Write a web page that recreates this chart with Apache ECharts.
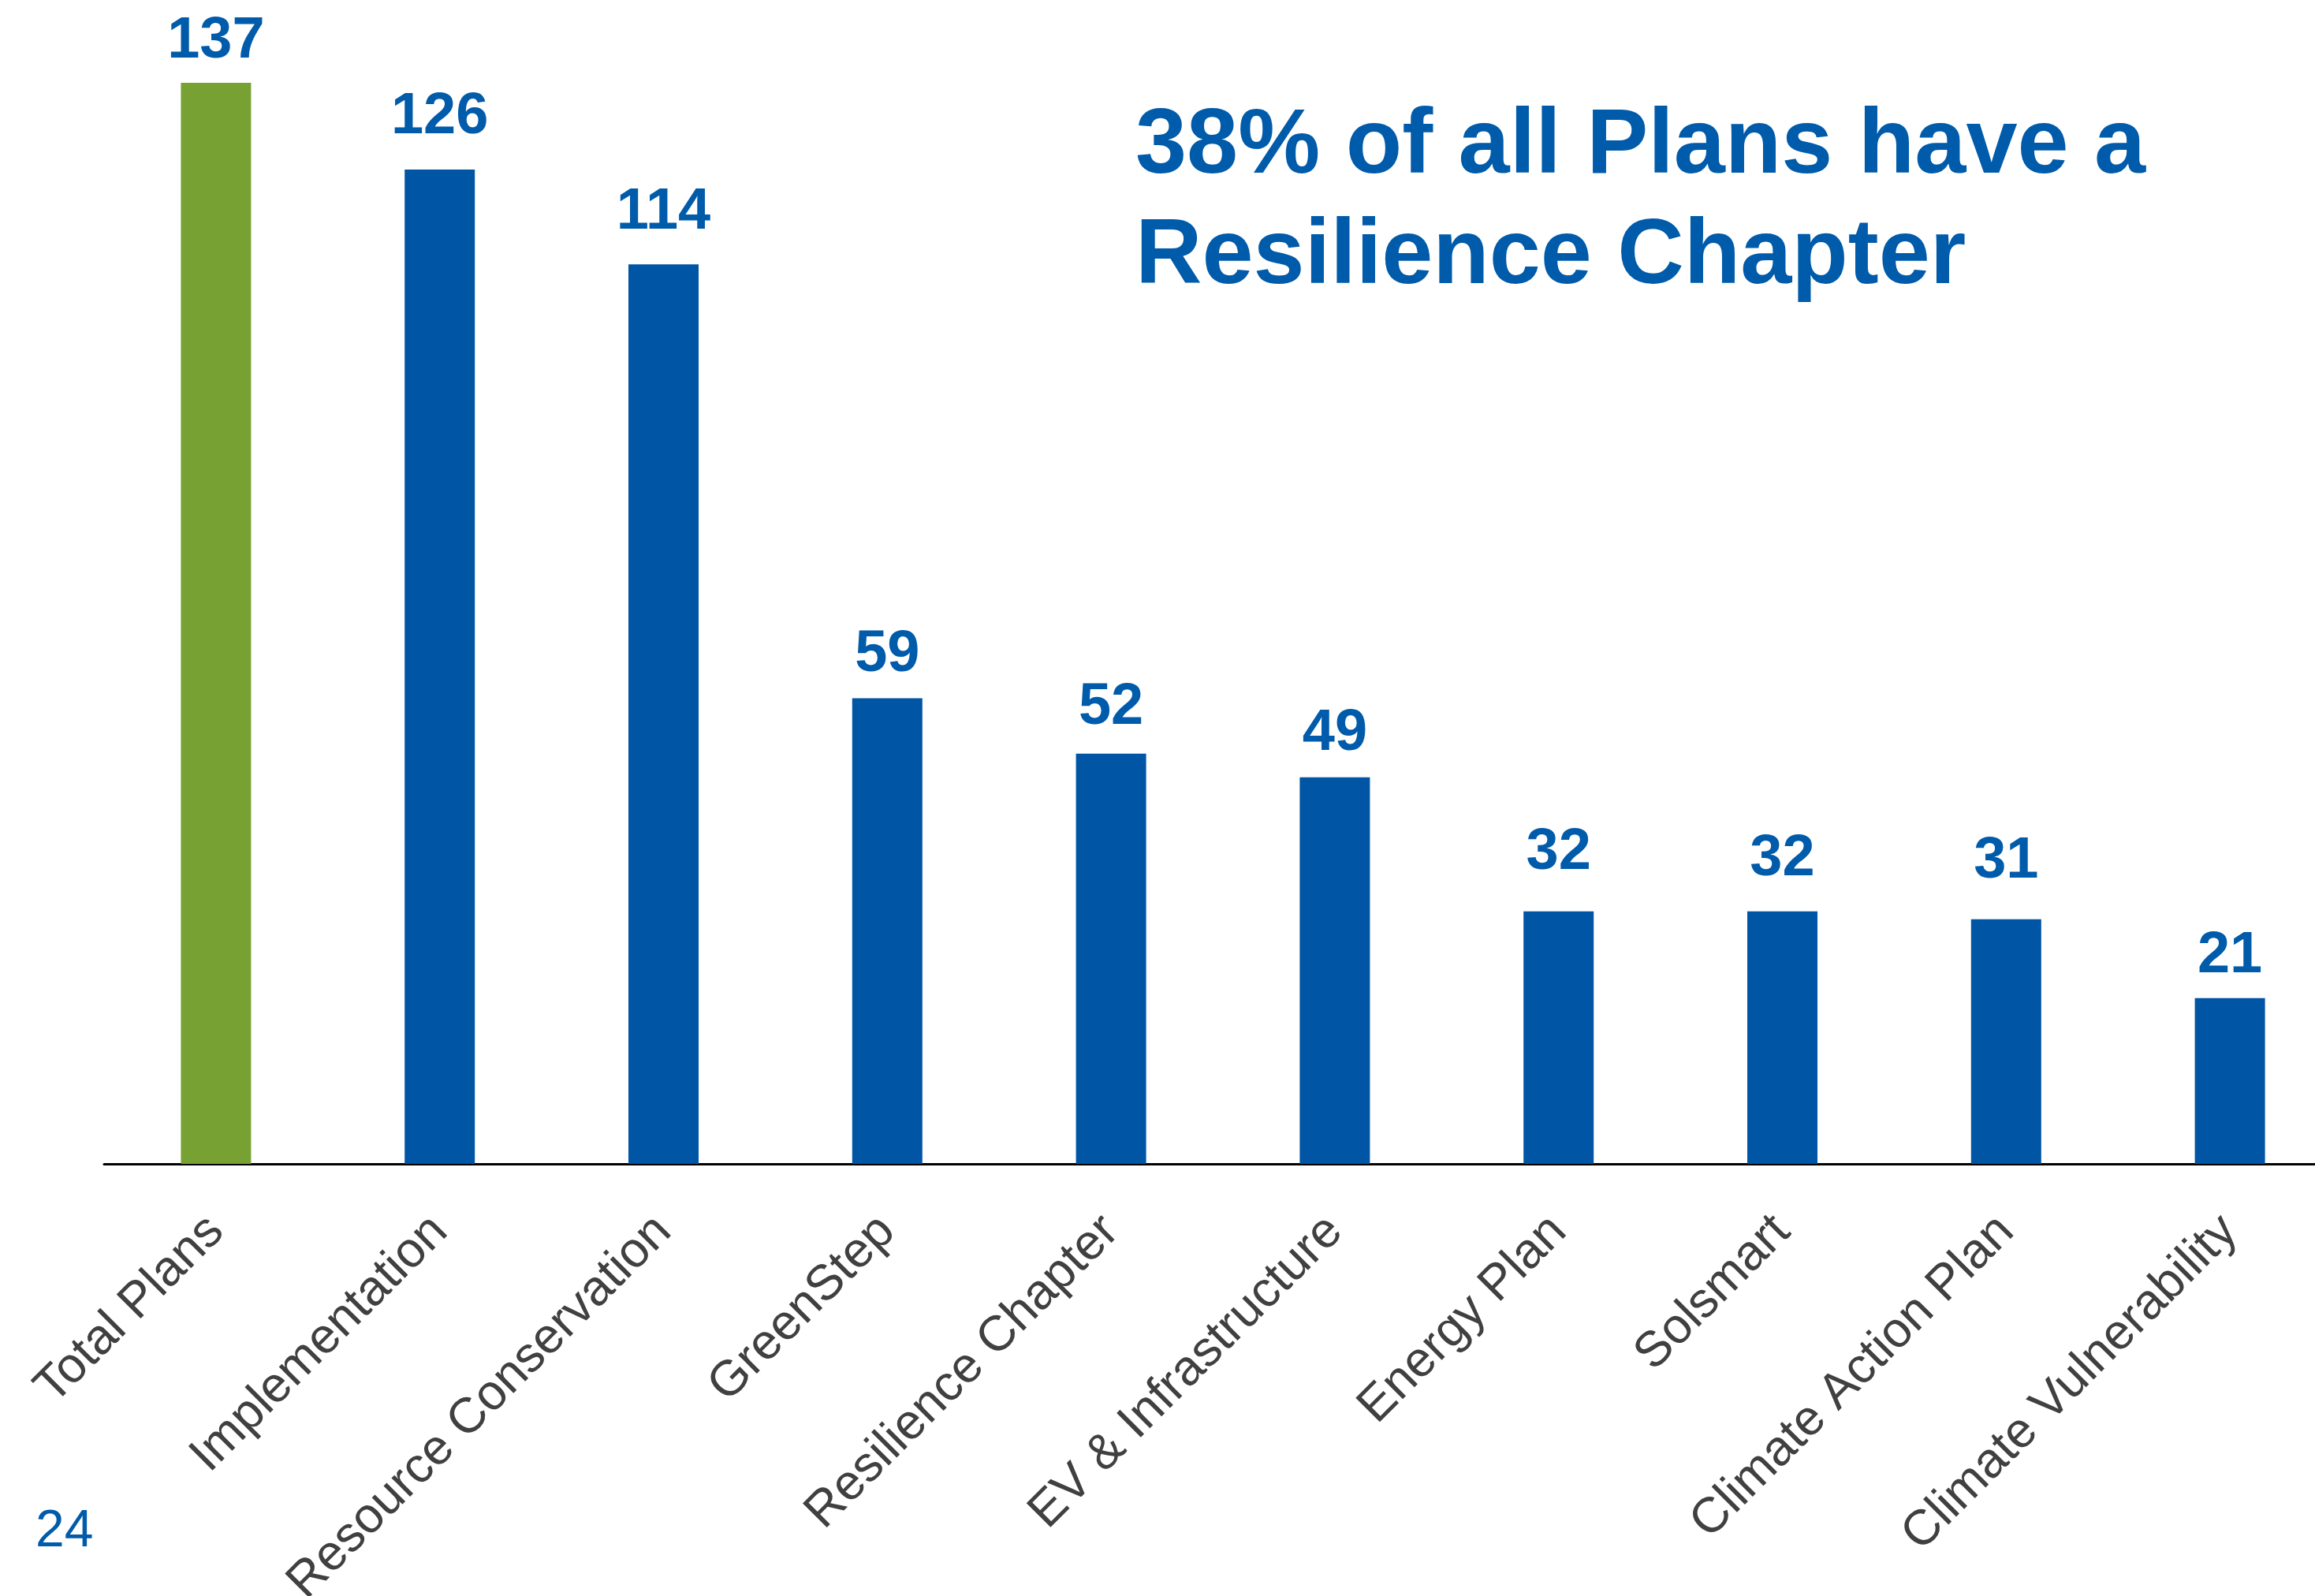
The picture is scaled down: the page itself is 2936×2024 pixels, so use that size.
<!DOCTYPE html>
<html>
<head>
<meta charset="utf-8">
<script src="https://cdn.jsdelivr.net/npm/echarts@6/dist/echarts.min.js"></script>
<style>
  html, body { margin: 0; padding: 0; background: #ffffff; overflow: hidden; }
  #chart { width: 2980px; height: 2024px; }
</style>
</head>
<body>
<div id="chart"></div>
<script>
const categories = ['Total Plans', 'Implementation', 'Resource Conservation', 'GreenStep', 'Resilience Chapter', 'EV & Infrastructure', 'Energy Plan', 'Solsmart', 'Climate Action Plan', 'Climate Vulnerability'];
const values = [137, 126, 114, 59, 52, 49, 32, 32, 31, 21];
const highlightIndex = 0;
const titleText = '38% of all Plans have a\nResilience Chapter';
const pageNumber = '24';
// gap (px) between each value label and its bar, as placed in the original slide
const labelGaps = [15, 30, 29, 18, 21, 18, 37, 29, 36, 16];

const BLUE = '#0055A4';
const GREEN = '#78A133';
const TEXT_BLUE = '#005BAA';

const chart = echarts.init(document.getElementById('chart'));
chart.setOption({
  backgroundColor: '#ffffff',
  animation: false,
  title: {
    text: titleText,
    left: 1440,
    top: 117,
    padding: 0,
    textStyle: {
      fontFamily: 'Liberation Sans, Arial, sans-serif',
      fontWeight: 'bold',
      fontSize: 117,
      lineHeight: 140,
      color: TEXT_BLUE
    }
  },
  graphic: [{
    type: 'text',
    left: 45,
    top: 1910,
    style: {
      text: pageNumber,
      font: '66px "Liberation Sans", Arial, sans-serif',
      fill: TEXT_BLUE
    }
  }],
  grid: { left: 132, top: 75, width: 2838, height: 1401, outerBoundsMode: 'none', containLabel: false },
  xAxis: {
    type: 'category',
    data: categories,
    axisLine: { show: true, lineStyle: { color: '#000000', width: 3 } },
    axisTick: { show: false },
    axisLabel: {
      rotate: 45,
      interval: 0,
      margin: 76,
      fontSize: 63,
      fontFamily: 'Liberation Sans, Arial, sans-serif',
      color: '#404040'
    }
  },
  yAxis: {
    type: 'value',
    min: 0,
    max: 140,
    show: false,
    splitLine: { show: false }
  },
  series: [{
    type: 'bar',
    barWidth: 89,
    data: values.map((v, i) => ({
      value: v,
      itemStyle: { color: i === highlightIndex ? GREEN : BLUE },
      label: { distance: labelGaps[i] }
    })),
    label: {
      show: true,
      position: 'top',
      fontSize: 74,
      fontWeight: 'bold',
      fontFamily: 'Liberation Sans, Arial, sans-serif',
      color: TEXT_BLUE
    }
  }]
});
</script>
</body>
</html>
